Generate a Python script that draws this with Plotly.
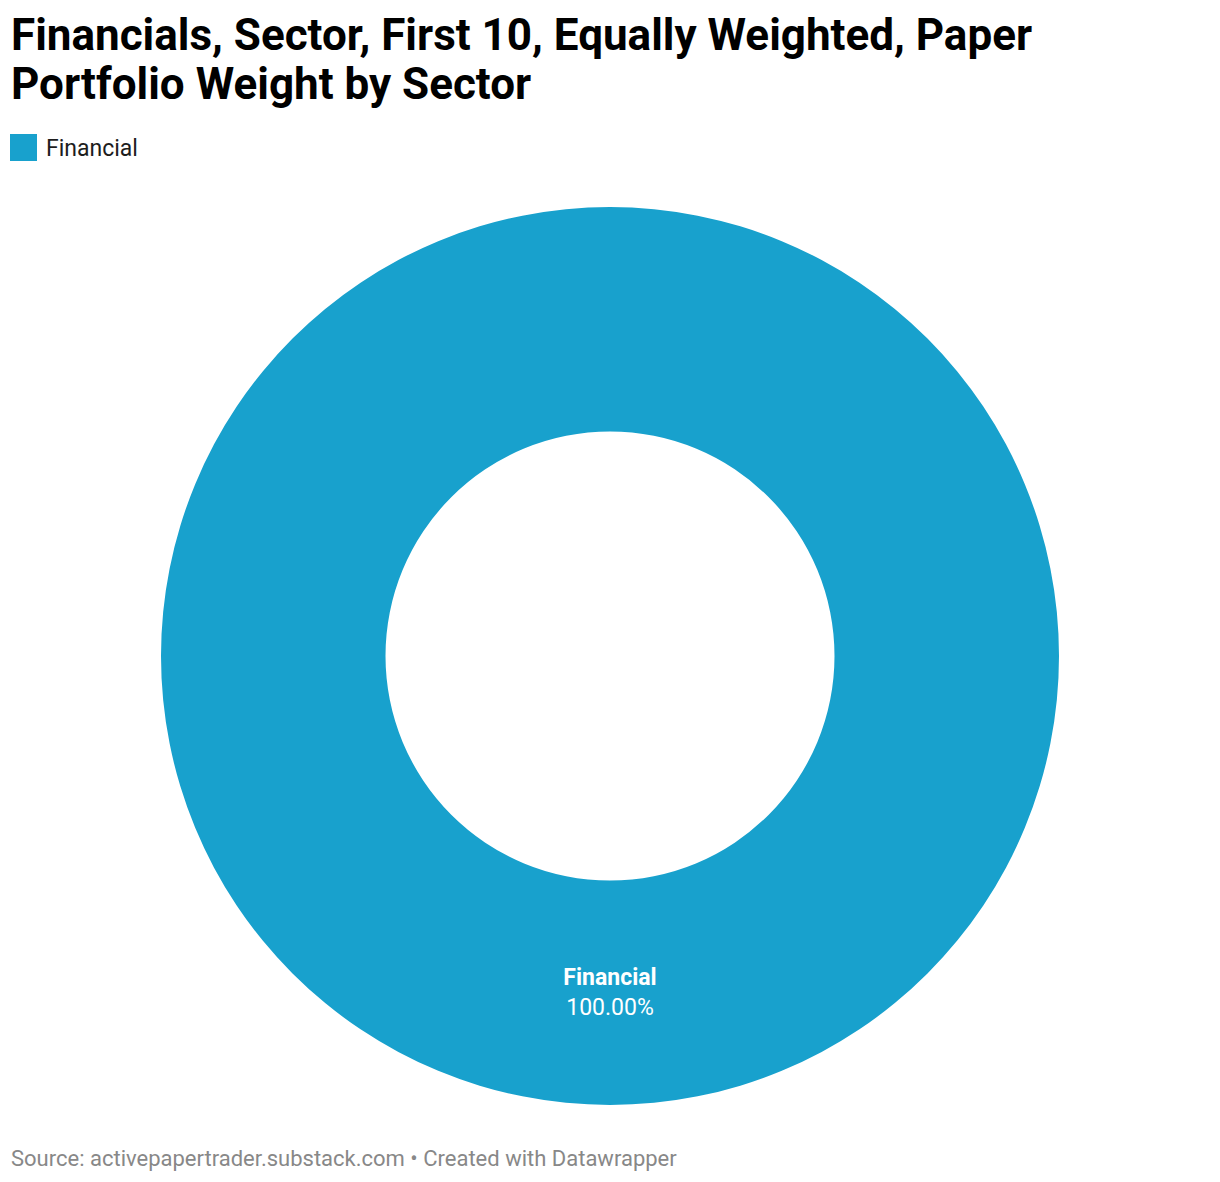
import plotly.graph_objects as go

# Data
sectors = ["Financial"]
weights = [100.0]
colors = ["#18a1cd"]

title_lines = ["Financials, Sector, First 10, Equally Weighted, Paper",
               "Portfolio Weight by Sector"]
footer_text = "Source: activepapertrader.substack.com • Created with Datawrapper"

# page has an 8px body margin; figure sized so page = 1220x1182
OFF = 8
W, H = 1220 - 2 * OFF, 1182 - 2 * OFF
M_T = 207 - OFF
M_B = H - (1105 - OFF)
plot_h = H - M_T - M_B
plot_bottom = H - M_B


def py(ref_pix):
    """reference-image pixel (from top) -> paper y"""
    return (plot_bottom - (ref_pix - OFF)) / plot_h


def px(ref_pix):
    return (ref_pix - OFF) / W


fig = go.Figure(go.Pie(
    labels=sectors,
    values=weights,
    hole=0.5,
    sort=False,
    direction="clockwise",
    rotation=0,
    marker=dict(colors=colors, line=dict(width=0)),
    textposition="inside",
    insidetextorientation="horizontal",
    texttemplate="<b>%{label}</b><br>%{percent:.2%}",
    textfont=dict(family="Roboto", size=23, color="white"),
    showlegend=False,
    hoverinfo="label+percent",
))

fig.update_layout(
    width=W, height=H,
    margin=dict(l=0, r=0, t=M_T, b=M_B),
    paper_bgcolor="white",
    plot_bgcolor="white",
    font=dict(family="Roboto"),
)

# Title (two lines, tight line spacing)
for txt, yc in zip(title_lines, [34.5, 84]):
    fig.add_annotation(text="<b>" + txt + "</b>", xref="paper", yref="paper",
                       x=px(9), y=py(yc), xanchor="left", yanchor="middle",
                       showarrow=False,
                       font=dict(family="Roboto", size=44, color="#000000"))

# Colour key from data
for lab, col in zip(sectors, colors):
    fig.add_shape(type="rect", xref="paper", yref="paper",
                  x0=px(10), x1=px(37), y0=py(161), y1=py(134),
                  fillcolor=col, line=dict(width=0))
    fig.add_annotation(text=lab, xref="paper", yref="paper",
                       x=px(44), y=py(148), xanchor="left", yanchor="middle",
                       showarrow=False,
                       font=dict(family="Roboto", size=23, color="#1d1d1d"))

fig.add_annotation(text=footer_text, xref="paper", yref="paper",
                   x=px(9), y=py(1158), xanchor="left", yanchor="middle",
                   showarrow=False,
                   font=dict(family="Roboto", size=22, color="#888888"))

fig.write_html("out.html")
